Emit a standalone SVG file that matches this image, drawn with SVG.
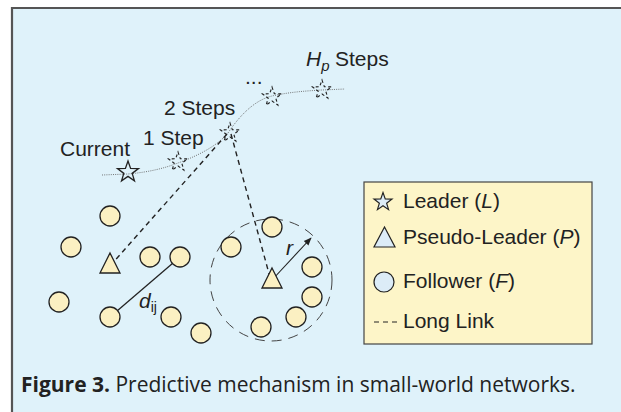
<svg xmlns="http://www.w3.org/2000/svg" xmlns:xlink="http://www.w3.org/1999/xlink" width="621" height="412" viewBox="0 0 621 412">
<style>
  .lbl { font-family: "Liberation Sans", Arial, sans-serif; font-size: 21px; fill: #222; }
  .it { font-style: italic; }
  .fol { fill: #fbf0c2; stroke: #222; stroke-width: 1.3; }
  .leg { fill: #dcecf7; stroke: #222; stroke-width: 1.2; }
  .dstar { fill: none; stroke: #222; stroke-width: 1.1; stroke-dasharray: 3 2.5; }
  .link { fill: none; stroke: #222; stroke-width: 1.4; stroke-dasharray: 5 4; }
  .cap { font-family: "Open Sans", "Noto Sans", sans-serif; font-size: 21px; fill: #222; }
</style>
<defs>
  <path id="star" d="M0,-10 L2.35,-3.24 L9.51,-3.09 L3.8,1.24 L5.88,8.09 L0,4 L-5.88,8.09 L-3.8,1.24 L-9.51,-3.09 L-2.35,-3.24 Z"/>
  <marker id="arr" viewBox="0 0 10 10" refX="9" refY="5" markerWidth="8" markerHeight="8" orient="auto" markerUnits="userSpaceOnUse">
    <path d="M0,1 L10,5 L0,9 Z" fill="#222"/>
  </marker>
</defs>
<rect x="0" y="0" width="621" height="412" fill="#ffffff"/>
<rect x="12" y="8" width="609" height="404" fill="#dff2fa"/>
<path d="M12,412 V8 H621" fill="none" stroke="#555" stroke-width="2.2"/>

<g id="connectors">
  <path id="trajectory" d="M102,175 L128,174 C150,172 165,168 178,163 C200,155 218,145 228,133 C240,115 255,100 272,96 C290,92 305,91 322,90 L345,89" fill="none" stroke="#666" stroke-width="0.9" stroke-dasharray="1 1.2"/>
  <line class="link" x1="227" y1="134" x2="110" y2="266"/>
  <line class="link" x1="231" y1="134" x2="271" y2="281"/>
  <line x1="110" y1="317" x2="180" y2="257" stroke="#222" stroke-width="1.3"/>
  <line x1="272" y1="280" x2="311" y2="238" stroke="#222" stroke-width="1.1" marker-end="url(#arr)"/>
  <circle id="range" cx="271" cy="280" r="61" fill="none" stroke="#444" stroke-width="1" stroke-dasharray="10 7"/>
</g>

<g id="leader-current"><use xlink:href="#star" transform="translate(128,172) scale(1.1)" fill="none" stroke="#222" stroke-width="1.2"/></g>
<g id="leader-1"><use xlink:href="#star" class="dstar" transform="translate(178,162)"/></g>
<g id="leader-2"><use xlink:href="#star" class="dstar" transform="translate(230,133)"/></g>
<g id="leader-3"><use xlink:href="#star" class="dstar" transform="translate(272,97)"/></g>
<g id="leader-hp"><use xlink:href="#star" class="dstar" transform="translate(322,90)"/></g>

<g id="pseudo-1"><path class="fol" d="M110,253 L120,273 L100,273 Z"/></g>
<g id="pseudo-2"><path class="fol" d="M272,268 L282,288 L262,288 Z"/></g>

<g id="followers">
  <circle class="fol" cx="110" cy="216" r="10"/>
  <circle class="fol" cx="71" cy="247" r="10"/>
  <circle class="fol" cx="150" cy="257" r="10"/>
  <circle class="fol" cx="180" cy="257" r="10"/>
  <circle class="fol" cx="59" cy="302" r="10"/>
  <circle class="fol" cx="110" cy="317" r="10"/>
  <circle class="fol" cx="171" cy="317" r="10"/>
  <circle class="fol" cx="201" cy="333" r="10"/>
  <circle class="fol" cx="231" cy="247" r="10"/>
  <circle class="fol" cx="272" cy="227" r="10"/>
  <circle class="fol" cx="312" cy="267" r="10"/>
  <circle class="fol" cx="312" cy="297" r="10"/>
  <circle class="fol" cx="296" cy="317" r="10"/>
  <circle class="fol" cx="261" cy="327" r="10"/>
</g>

<g id="labels">
  <text class="lbl" x="60" y="156">Current</text>
  <text class="lbl" x="143" y="145">1 Step</text>
  <text class="lbl" x="164" y="115">2 Steps</text>
  <text class="lbl" x="245" y="84" font-size="14">...</text>
  <text class="lbl" x="306" y="66"><tspan class="it">H</tspan><tspan class="it" font-size="15" dy="5">p</tspan><tspan x="335" dy="-5">Steps</tspan></text>
  <text class="lbl" x="139" y="308"><tspan class="it">d</tspan><tspan font-size="14" dy="4">ij</tspan></text>
  <text class="lbl it" x="286" y="255">r</text>
</g>

<g id="legend">
  <rect x="364" y="182" width="228" height="162" fill="#fdf5c8" stroke="#444" stroke-width="1.2"/>
  <use xlink:href="#star" class="leg" transform="translate(383,202) scale(0.95)"/>
  <text class="lbl" x="403" y="208">Leader (<tspan class="it">L</tspan>)</text>
  <path class="leg" d="M384.5,227 L395,247 L374,247 Z"/>
  <text class="lbl" x="403" y="244">Pseudo-Leader (<tspan class="it">P</tspan>)</text>
  <circle class="leg" cx="384" cy="282" r="10"/>
  <text class="lbl" x="403" y="288">Follower (<tspan class="it">F</tspan>)</text>
  <line x1="374" y1="322" x2="397" y2="322" stroke="#222" stroke-width="1" stroke-dasharray="5 4"/>
  <text class="lbl" x="403" y="328">Long Link</text>
</g>

<text class="cap" x="21" y="392"><tspan font-weight="bold">Figure 3.</tspan> Predictive mechanism in small-world networks.</text>
</svg>
